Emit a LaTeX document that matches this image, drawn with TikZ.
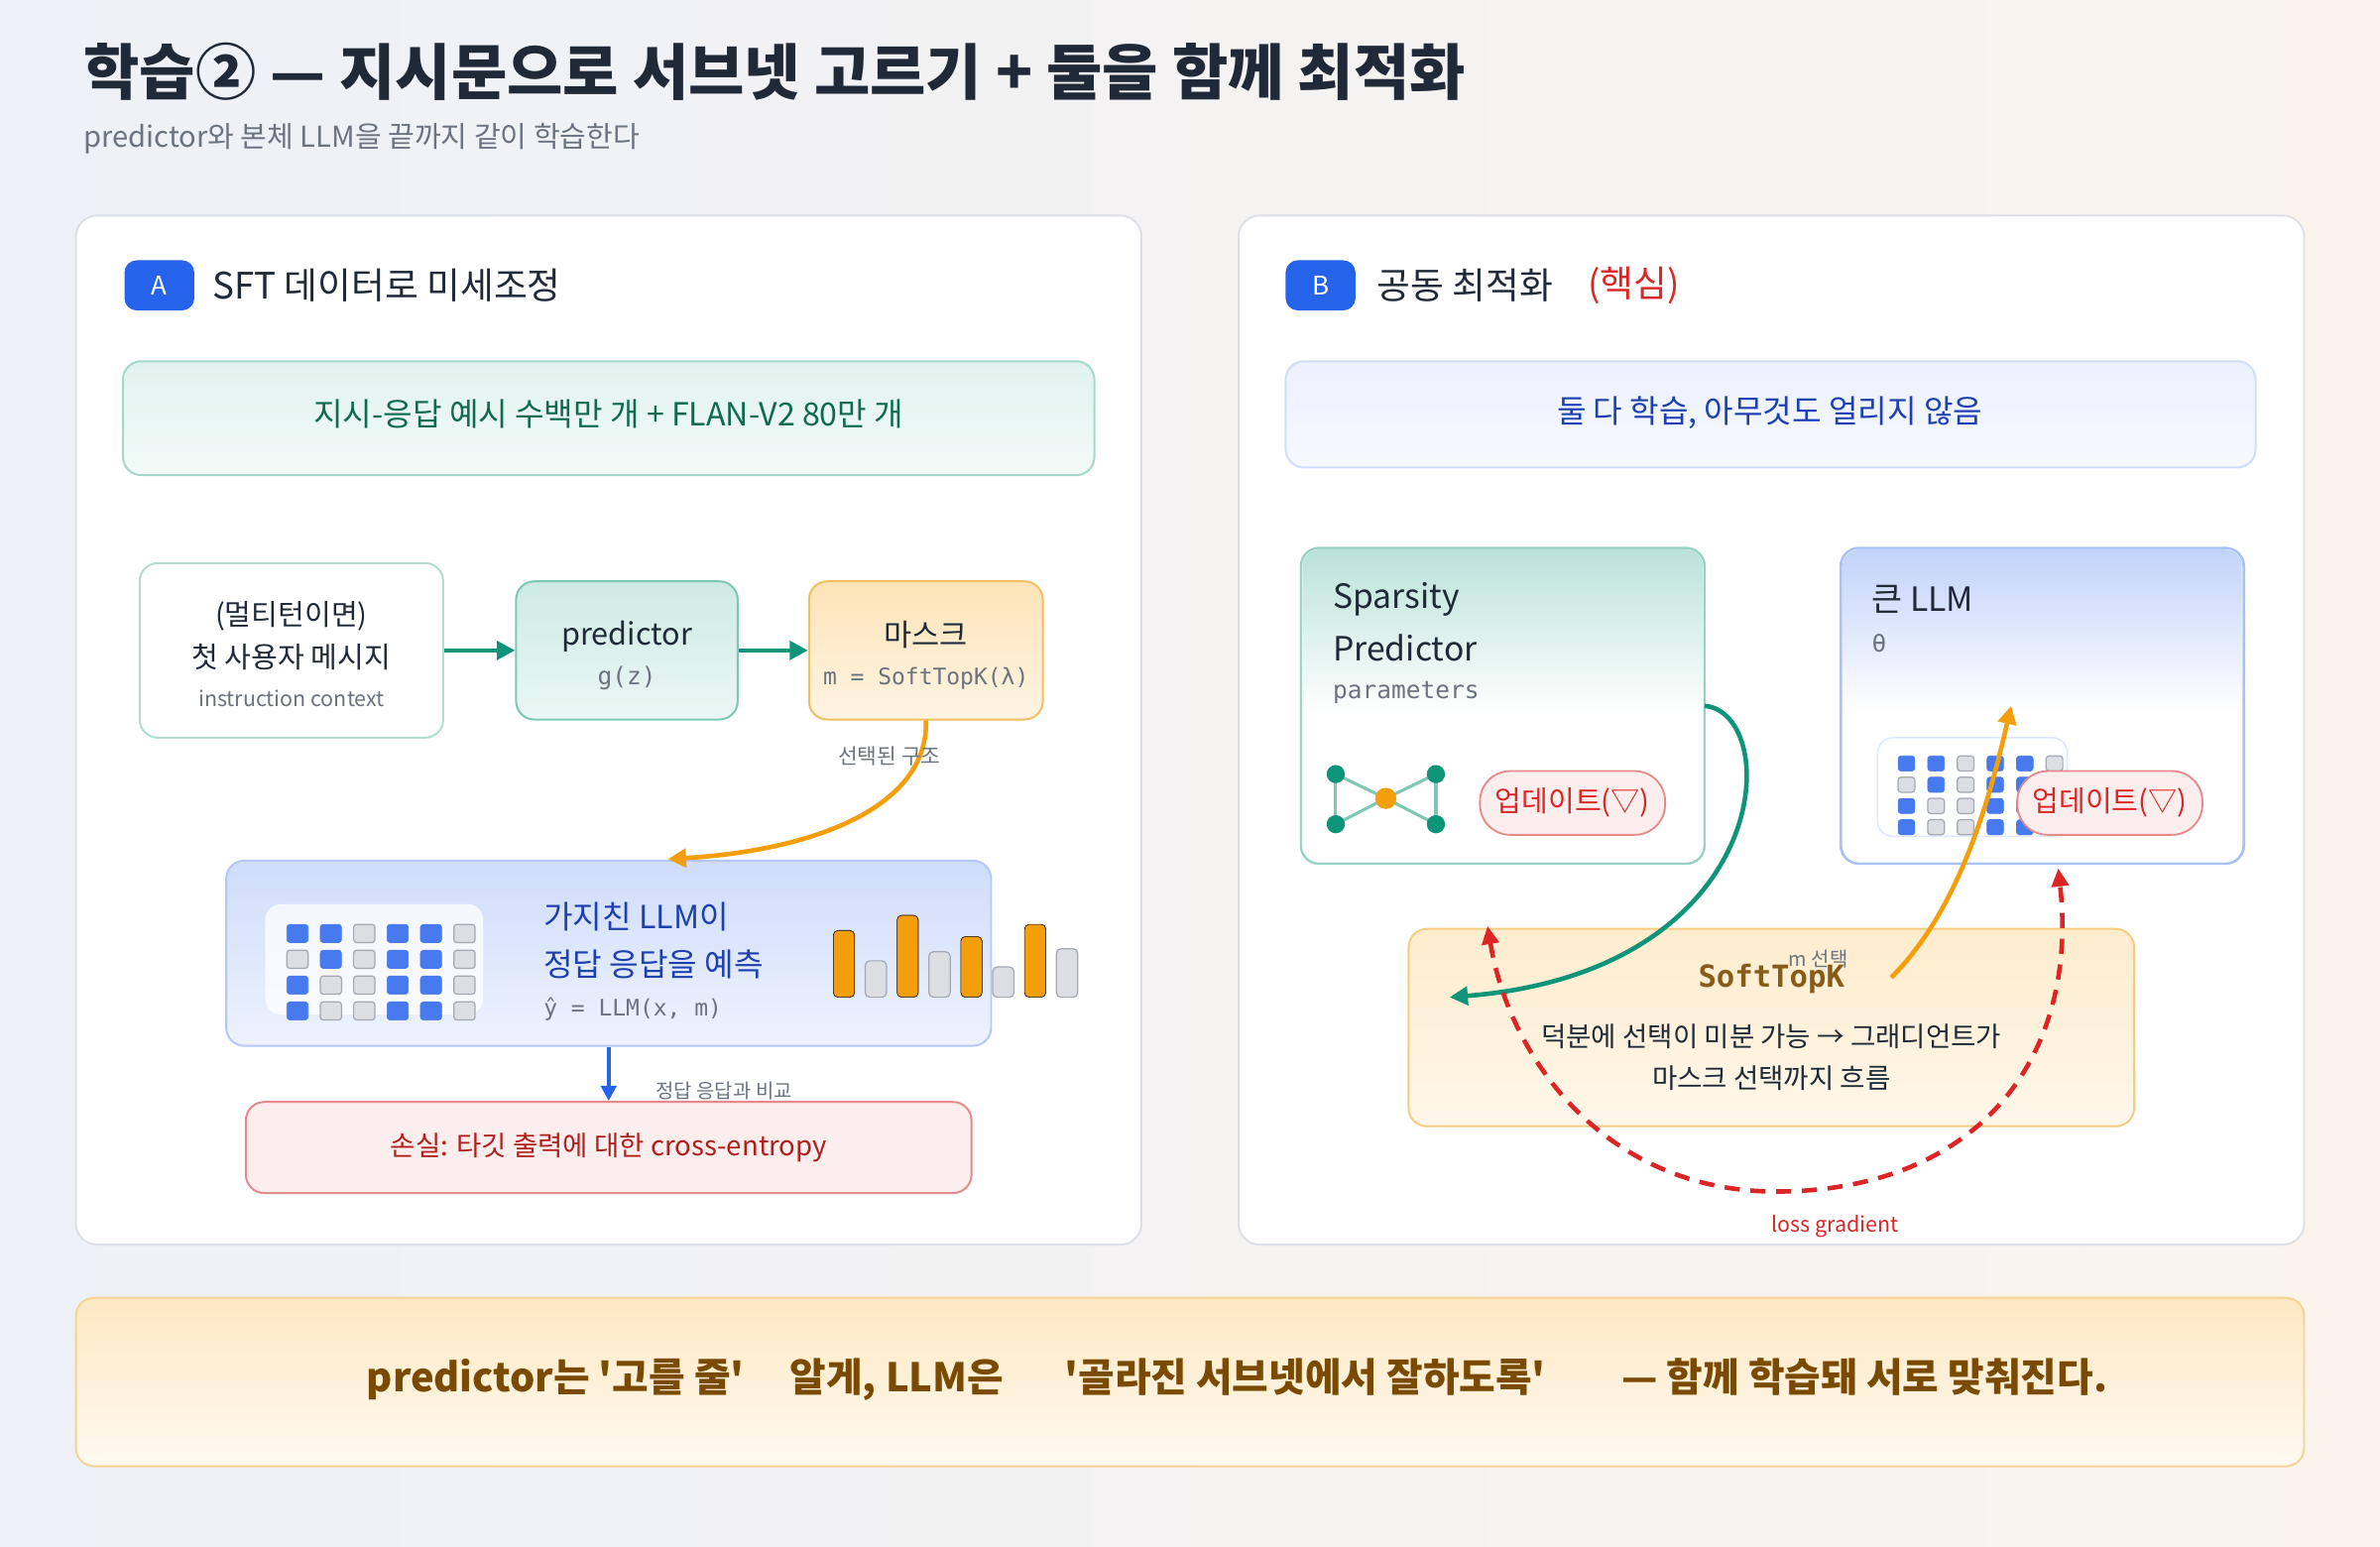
\documentclass[tikz,border=0pt]{standalone}
\usepackage{fontspec}
\setmainfont{Noto Sans CJK KR}[Ligatures=TeXOff]
\setmonofont{DejaVu Sans Mono}
\usetikzlibrary{arrows.meta,calc}
\definecolor{bgA}{HTML}{EEF1F8}\definecolor{bgB}{HTML}{FAF4EC}
\definecolor{panelb}{HTML}{DCDFE6}
\definecolor{blu}{HTML}{2563EB}\definecolor{dblu}{HTML}{1E40AF}
\definecolor{teal}{HTML}{0E9479}\definecolor{tealL}{HTML}{CDEBE3}\definecolor{tealB}{HTML}{7CC8B5}
\definecolor{orn}{HTML}{F59E0B}\definecolor{ornL}{HTML}{FDE4B8}\definecolor{ornB}{HTML}{F2C063}
\definecolor{redd}{HTML}{DC2626}\definecolor{redL}{HTML}{FDEEEE}\definecolor{redB}{HTML}{E58A8A}
\definecolor{txt}{HTML}{1F2937}\definecolor{gry}{HTML}{6B7280}\definecolor{dgreen}{HTML}{0F6B50}
\definecolor{cellg}{HTML}{DCDEE3}\definecolor{cellgb}{HTML}{A3A8B2}\definecolor{brown}{HTML}{7A4A00}
\begin{document}
\begin{tikzpicture}[x=1pt,y=-1pt,
 fs/.style={font=\fontsize{#1}{#1}\selectfont},
 panel/.style={fill=white,draw=panelb,line width=1.2pt,rounded corners=14pt},
 badge/.style={fill=blu,rounded corners=8pt,text=white,fs=17,minimum width=46pt,minimum height=33pt,inner sep=0pt},
 lt/.style={anchor=west,inner sep=0pt},
 box/.style={rounded corners=12pt,line width=1.3pt},
 pill/.style={fill=redL,draw=redB,line width=1.2pt,rounded corners=20pt,text=redd,fs=19,minimum width=122pt,minimum height=42pt,inner sep=0pt},
 tarr/.style={teal,line width=3pt,-{Triangle[length=12pt,width=12pt]}},
 oarr/.style={orn,line width=3pt,-{Triangle[length=12pt,width=12pt]}},
 cell1/.style={fill=blu!85,draw=blu!85,rounded corners=2pt},
 cell0/.style={fill=cellg,draw=cellgb,line width=0.8pt,rounded corners=2pt},
 obar/.style={fill=orn,rounded corners=3pt},
 gbar/.style={fill=cellg,draw=cellgb,line width=0.8pt,rounded corners=3pt},
]
\useasboundingbox (0,0) rectangle (1568,1019);
\shade[left color=bgA,right color=bgB] (0,0) rectangle (1568,1019);
% title
\node[lt,text=txt,font=\bfseries\fontsize{40}{46}\selectfont] (title) at (55,47) {학습② — 지시문으로 서브넷 고르기 + 둘을 함께 최적화};
\node[lt,fs=19,text=gry] (sub) at (55,91) {predictor와 본체 LLM을 끝까지 같이 학습한다};
% panels
\draw[panel] (50,142) rectangle (752,820);
\draw[panel] (816,142) rectangle (1518,820);
% Panel A
\node[badge] (ba) at (105,188) {A};
\node[lt,fs=24,text=txt] (ta) at (140,188) {SFT 데이터로 미세조정};
\shade[box,top color=tealL!60,bottom color=tealL!25,draw=tealB!70] (81,238) rectangle (721,313);
\node[fs=21,text=dgreen] (bana) at (401,273) {지시-응답 예시 수백만 개 + FLAN-V2 80만 개};
\node[box,draw=tealB!60,fill=white,minimum width=200pt,minimum height=115pt] (ctx) at (192,428.5) {};
\node[fs=19,text=txt] at (192,406) {(멀티턴이면)};
\node[fs=19,text=txt] at (192,433) {첫 사용자 메시지};
\node[fs=14,text=gry] at (192,460) {instruction context};
\node[box,draw=tealB,top color=tealL,bottom color=tealL!40,minimum width=146pt,minimum height=91pt] (pred) at (413,428.5) {};
\node[fs=20,text=txt] at (413,419) {predictor};
\node[text=gry,font=\ttfamily\fontsize{16}{20}\selectfont] at (413,447) {g(z)};
\node[box,draw=ornB,top color=ornL,bottom color=ornL!40,minimum width=154pt,minimum height=91pt] (mask) at (610,428.5) {};
\node[fs=20,text=txt] at (610,418) {마스크};
\node[text=gry,font=\ttfamily\fontsize{15}{19}\selectfont] at (610,447) {m = SoftTopK(λ)};
\draw[tarr] (ctx.east) -- (pred.west);
\draw[tarr] (pred.east) -- (mask.west);
\node[box,draw=blu!35,top color=blu!22,bottom color=blu!8,minimum width=504pt,minimum height=122pt] (llm) at (401,628) {};
\coordinate (llmin) at (440,566);
\draw[oarr] (mask.south) .. controls (612,530) and (540,560) .. (llmin);
\node[fs=14,text=gry] (sel) at (586,498) {선택된 구조};
\draw[fill=white,fill opacity=0.75,draw=white,rounded corners=10pt] (175,596) rectangle (318,668);
\foreach \row [count=\r] in {{1,1,0,1,1,0},{0,1,0,1,1,0},{1,0,0,1,1,0},{1,0,0,1,1,0}}
 \foreach \v [count=\c] in \row
  \draw[cell\v] ({167+22*\c},{592+17*\r}) rectangle +(14,12);
\node[lt,fs=21,text=dblu] at (358,604) {가지친 LLM이};
\node[lt,fs=21,text=dblu] at (358,635) {정답 응답을 예측};
\node[lt,text=gry,font=\ttfamily\fontsize{15}{19}\selectfont] at (358,665) {ŷ = LLM(x, m)};
\foreach \h [count=\i] in {44,24,54,30,40,20,48,32}{
 \pgfmathsetmacro\xx{549+21*(\i-1)}
 \ifodd\i \draw[obar] (\xx,657) rectangle +(14,-\h); \else \draw[gbar] (\xx,657) rectangle +(14,-\h); \fi}
\node[box,draw=redB,fill=redL,minimum width=478pt,minimum height=60pt] (loss) at (401,756) {};
\node[fs=18,text=redd!80!black] at (401,756) {손실: 타깃 출력에 대한 cross-entropy};
\draw[blu,line width=2.5pt,-{Triangle[length=10pt,width=10pt]}] (llm.south -| loss.north) -- (loss.north);
\node[fs=13,text=gry] (cmp) at (477,719) {정답 응답과 비교};
% Panel B
\node[badge] (bb) at (870,188) {B};
\node[lt,fs=24,text=txt] (tb) at (907,188) {공동 최적화};
\node[lt,fs=24,text=redd] (tb2) at (1046,188) {(핵심)};
\shade[box,top color=blu!9,bottom color=blu!4,draw=blu!22] (847,238) rectangle (1486,308);
\node[fs=21,text=dblu] (banb) at (1166,272) {둘 다 학습, 아무것도 얼리지 않음};
\node[box,draw=tealB!80,fill=white,minimum width=266pt,minimum height=208pt] (sp) at (990,465) {};
\shade[top color=tealL!90!teal,bottom color=white,rounded corners=11pt] (858,362) -- (1122,362) -- (1122,470) -- (858,470) -- cycle;
\draw[tealB!80,line width=1.3pt,rounded corners=12pt] (857,361) rectangle (1123,569);
\node[lt,fs=22,text=txt] at (878,395) {Sparsity};
\node[lt,fs=22,text=txt] at (878,427) {Predictor};
\node[lt,text=gry,font=\ttfamily\fontsize{16}{20}\selectfont] at (878,456) {parameters};
\foreach \p in {(880,510),(946,510),(880,543),(946,543)} \draw[tealB,line width=2pt] \p -- (913,526);
\draw[tealB,line width=2pt] (880,510)--(880,543) (946,510)--(946,543);
\foreach \p in {(880,510),(946,510),(880,543),(946,543)} \fill[teal] \p circle (6pt);
\fill[orn] (913,526) circle (7pt);
\node[pill] (up1) at (1036,529) {업데이트(▽)};
\node[box,draw=blu!40,fill=white,minimum width=266pt,minimum height=208pt] (big) at (1345.5,465) {};
\shade[top color=blu!28,bottom color=white,rounded corners=11pt] (1214,362) -- (1477,362) -- (1477,470) -- (1214,470) -- cycle;
\draw[blu!40,line width=1.3pt,rounded corners=12pt] (1213,361) rectangle (1478,569);
\node[lt,fs=22,text=txt] at (1233,395) {큰 LLM};
\node[lt,text=gry,font=\ttfamily\fontsize{16}{20}\selectfont] at (1233,424) {θ};
\draw[fill=white,draw=blu!15,line width=1pt,rounded corners=10pt] (1237,486) rectangle (1362,551);
\foreach \row [count=\r] in {{1,1,0,1,1,0},{0,1,0,1,1,0},{1,0,0,1,1,0},{1,0,0,1,1,0}}
 \foreach \v [count=\c] in \row
  \draw[cell\v] ({1231+19.5*\c},{484+14*\r}) rectangle +(11,10);
\node[pill] (up2) at (1390,529) {업데이트(▽)};
\node[box,draw=ornB!80,top color=ornL!70,bottom color=ornL!30,minimum width=478pt,minimum height=130pt] (stk) at (1167,677) {};
\node[text=brown!90,font=\ttfamily\bfseries\fontsize{20}{24}\selectfont] (stkt) at (1167,645) {SoftTopK};
\node[fs=13,text=gry] (msel) at (1198,632) {m 선택};
\node[fs=18,text=txt] at (1167,683) {덕분에 선택이 미분 가능 → 그래디언트가};
\node[fs=18,text=txt] at (1167,710) {마스크 선택까지 흐름};
\coordinate (spout) at (1123,465);
\coordinate (tin) at (955,657);
\draw[tarr] (spout) .. controls (1175,470) and (1170,640) .. (tin);
\coordinate (oout) at (1246,644);
\coordinate (oin) at (1325,465);
\draw[oarr] (oout) .. controls (1290,600) and (1310,530) .. (oin);
\coordinate (rl) at (980,610);
\coordinate (rr) at (1356,572);
\coordinate (rb) at (1170,785);
\draw[redd,line width=3pt,dash pattern=on 10pt off 7pt,{Triangle[length=12pt,width=11pt]}-{Triangle[length=12pt,width=11pt]}]
  (rl) .. controls (995,700) and (1060,785) .. (rb) .. controls (1300,785) and (1370,700) .. (rr);
\node[fs=14,text=redd] (lg) at (1209,808) {loss gradient};
% bottom banner
\shade[box,top color=ornL!85,bottom color=ornL!20,draw=ornB!70] (50,855) rectangle (1518,966);
\node[text=brown,font=\bfseries\fontsize{26}{32}\selectfont] (concl) at (815,909) {predictor는 '고를 줄'\hspace{30pt}알게, LLM은\hspace{40pt}'골라진 서브넷에서 잘하도록'\hspace{50pt}— 함께 학습돼 서로 맞춰진다.};
\end{tikzpicture}
\end{document}
